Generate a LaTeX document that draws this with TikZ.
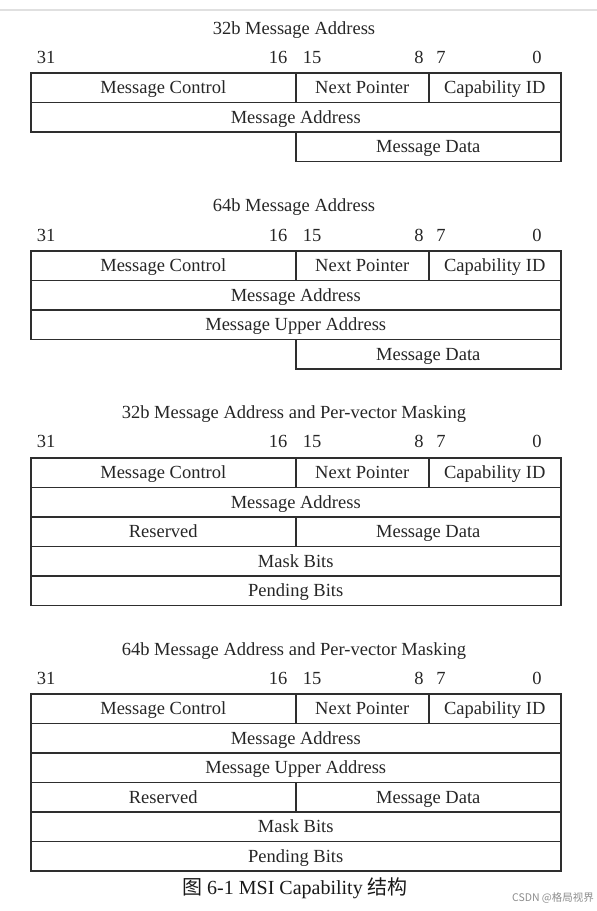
\documentclass[tikz,border=0pt]{standalone}
\usepackage{fontspec}
\setmainfont{Liberation Serif}
\newfontfamily\cjk{Noto Sans CJK SC}
\newcommand\msibits[2]{%
  \node[lbl] (#2b31) at (46,#1) {31};
  \node[lbl] (#2b16) at (278,#1) {16};
  \node[lbl] (#2b15) at (312,#1) {15};
  \node[lbl] (#2b8) at (419,#1) {8};
  \node[lbl] (#2b7) at (441,#1) {7};
  \node[lbl] (#2b0) at (537,#1) {0};}
\newcommand\msihead[2]{%
  \node[half] (#2mc) at (30,#1) {Message Control};
  \node[np] (#2np) at (295,#1) {Next Pointer};
  \node[cid] (#2cid) at (428,#1) {Capability ID};}
\begin{document}
\begin{tikzpicture}[x=1pt,y=-1pt,
  cell/.style={draw=black!82, line width=1.5pt, inner sep=0pt, anchor=north west,
    minimum height=29.5pt, text height=12pt, text depth=0pt,
    font=\fontsize{18.5}{20}\selectfont, text=black!85},
  full/.style={cell, minimum width=530pt},
  half/.style={cell, minimum width=265pt},
  np/.style={cell, minimum width=133pt},
  cid/.style={cell, minimum width=132pt},
  lbl/.style={font=\fontsize{18.5}{20}\selectfont, text=black!85, inner sep=0pt,
    text height=12pt, text depth=0pt}]
\useasboundingbox (0,0) rectangle (597,911);
\coordinate (rl) at (0,10);
\coordinate (rr) at (597,10);
\draw[black!12, line width=2pt] (rl) -- (rr);
% Section 1
\node[lbl] (t1) at (294,28.8) {32b Message Address};
\msibits{57.5}{s1}
\msihead{72}{s1}
\node[full] (s1ma) at (30,101.5) {Message Address};
\node[half] (s1md) at (295,131) {Message Data};
% Section 2
\node[lbl] (t2) at (294,205.5) {64b Message Address};
\msibits{235}{s2}
\msihead{250}{s2}
\node[full] (s2ma) at (30,279.5) {Message Address};
\node[full] (s2mu) at (30,309) {Message Upper Address};
\node[half] (s2md) at (295,338.5) {Message Data};
% Section 3
\node[lbl] (t3) at (294,412.5) {32b Message Address and Per-vector Masking};
\msibits{441.7}{s3}
\msihead{457}{s3}
\node[full] (s3ma) at (30,486.5) {Message Address};
\node[half] (s3rs) at (30,516) {Reserved};
\node[half] (s3md) at (295,516) {Message Data};
\node[full] (s3mb) at (30,545.5) {Mask Bits};
\node[full] (s3pb) at (30,575) {Pending Bits};
% Section 4
\node[lbl] (t4) at (294,649) {64b Message Address and Per-vector Masking};
\msibits{678.5}{s4}
\msihead{693}{s4}
\node[full] (s4ma) at (30,722.5) {Message Address};
\node[full] (s4mu) at (30,752) {Message Upper Address};
\node[half] (s4rs) at (30,781.5) {Reserved};
\node[half] (s4md) at (295,781.5) {Message Data};
\node[full] (s4mb) at (30,811) {Mask Bits};
\node[full] (s4pb) at (30,840.5) {Pending Bits};
% Caption
\node[inner sep=0pt, text=black!90, text height=13pt, text depth=0pt] (cap) at (295,888)
  {\fontsize{20}{22}\selectfont{\cjk 图} 6-1 MSI Capability {\cjk 结构}};
\node[inner sep=0pt, text=black!45] (wm) at (553,898)
  {\cjk\fontsize{10.5}{12}\selectfont CSDN @格局视界};
\end{tikzpicture}
\end{document}
